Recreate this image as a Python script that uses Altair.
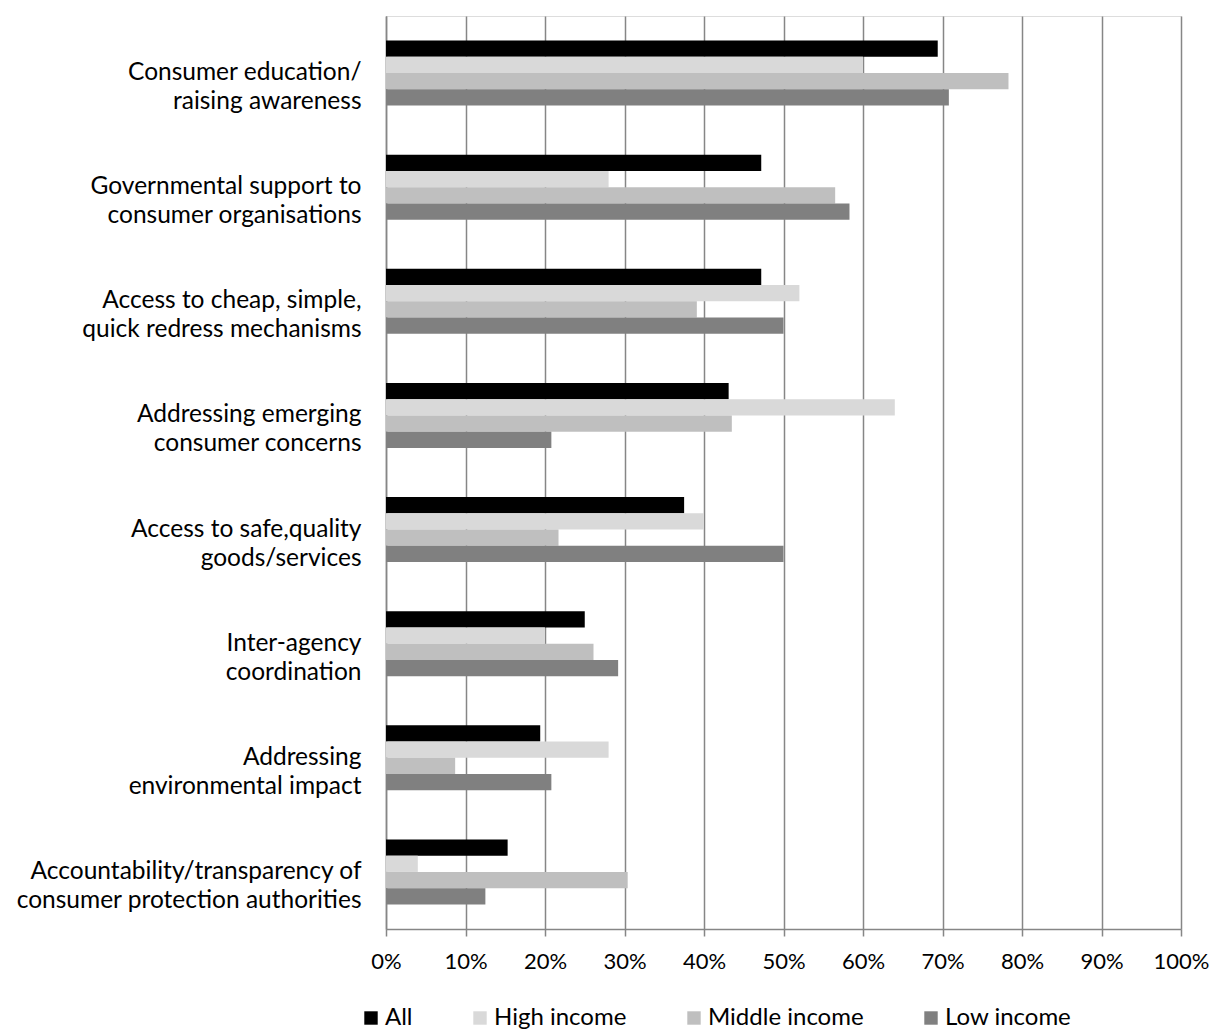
import altair as alt
import pandas as pd

categories = [
    "Consumer education/|raising awareness",
    "Governmental support to|consumer organisations",
    "Access to cheap, simple,|quick redress mechanisms",
    "Addressing emerging|consumer concerns",
    "Access to safe,quality|goods/services",
    "Inter-agency|coordination",
    "Addressing|environmental impact",
    "Accountability/transparency of|consumer protection authorities",
]
series_names = ["All", "High income", "Middle income", "Low income"]
all_vals = [0.694, 0.472, 0.472, 0.431, 0.375, 0.250, 0.194, 0.153]
high_vals = [0.60, 0.28, 0.52, 0.64, 0.40, 0.20, 0.28, 0.04]
middle_vals = [0.783, 0.565, 0.391, 0.435, 0.217, 0.261, 0.087, 0.304]
low_vals = [0.708, 0.583, 0.500, 0.208, 0.500, 0.292, 0.208, 0.125]
series_colors = ["#000000", "#d9d9d9", "#bfbfbf", "#808080"]
x_ticks = [0, 0.1, 0.2, 0.3, 0.4, 0.5, 0.6, 0.7, 0.8, 0.9, 1.0]

rows = []
for name, vals in zip(series_names, [all_vals, high_vals, middle_vals, low_vals]):
    for c, v in zip(categories, vals):
        rows.append({"category": c, "series": name, "value": v})
df = pd.DataFrame(rows)

FONT = "Lato"

chart = alt.Chart(df).mark_bar().encode(
    y=alt.Y(
        "category:N",
        sort=categories,
        scale=alt.Scale(paddingInner=0.43, paddingOuter=0.215),
        axis=alt.Axis(
            title=None,
            labelExpr="split(datum.label, '|')",
            labelFont=FONT,
            labelFontSize=24.5,
            labelColor="#000000",
            labelLineHeight=29,
            labelPadding=25,
            labelAlign="right",
            labelLimit=500,
            ticks=False,
            domainColor="#868686",
            domainWidth=1.5,
            grid=False,
        ),
    ),
    yOffset=alt.YOffset("series:N", sort=series_names),
    x=alt.X(
        "value:Q",
        scale=alt.Scale(domain=[0, 1], nice=False),
        axis=alt.Axis(
            title=None,
            values=x_ticks,
            format=".0%",
            labelFont=FONT,
            labelFontSize=22,
            labelColor="#000000",
            labelPadding=15,
            labelFlush=False,
            tickSize=7,
            tickColor="#868686",
            tickWidth=1.5,
            domainColor="#868686",
            domainWidth=1.5,
            grid=True,
            gridColor="#868686",
            gridWidth=1.5,
        ),
    ),
    color=alt.Color(
        "series:N",
        sort=series_names,
        scale=alt.Scale(domain=series_names, range=series_colors),
        legend=alt.Legend(
            title=None,
            orient="none",
            direction="horizontal",
            legendX=-27,
            legendY=990,
            symbolType="square",
            symbolSize=180,
            symbolStrokeWidth=0,
            labelFont=FONT,
            labelFontSize=24,
            labelColor="#000000",
            labelOffset=2,
            columnPadding=55,
            labelLimit=400,
        ),
    ),
).properties(
    width=795,
    height=913,
    autosize="none",
    padding={"left": 386, "top": 16, "right": 31, "bottom": 101},
).configure_view(stroke=None).configure(background="white")

chart.save("out.html", embed_options={"renderer": "svg", "actions": False})
